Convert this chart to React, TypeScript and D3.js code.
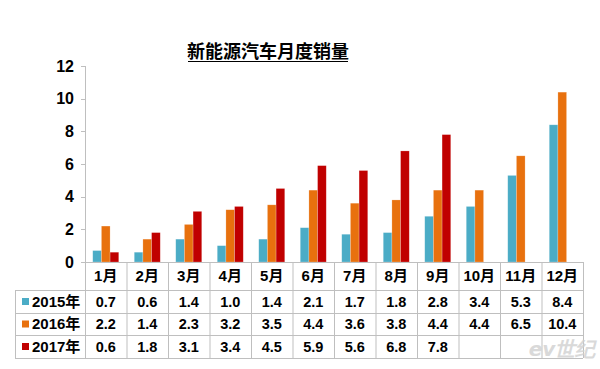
import React from "react";
import * as d3 from "d3";

const months = ["1月", "2月", "3月", "4月", "5月", "6月", "7月", "8月", "9月", "10月", "11月", "12月"];
const seriesNames = ["2015年", "2016年", "2017年"];
const colors = ["#4BACC6", "#E8710E", "#C00000"];
const s2015 = [0.7, 0.6, 1.4, 1.0, 1.4, 2.1, 1.7, 1.8, 2.8, 3.4, 5.3, 8.4];
const s2016 = [2.2, 1.4, 2.3, 3.2, 3.5, 4.4, 3.6, 3.8, 4.4, 4.4, 6.5, 10.4];
const s2017: (number | null)[] = [0.6, 1.8, 3.1, 3.4, 4.5, 5.9, 5.6, 6.8, 7.8, null, null, null];
const yTicks = [0, 2, 4, 6, 8, 10, 12];
const title = "新能源汽车月度销量";

export default function App() {
  const W = 600, H = 369;
  const left = 85, right = 583, top = 66, bottom = 262;
  const tableLeft = 15;
  const rowEdges = [262, 290, 313, 335, 358];
  const series = [s2015, s2016, s2017];

  const x = d3.scaleBand<string>().domain(months).range([left, right]).padding(0);
  const inner = d3.scaleBand<string>().domain(seriesNames).range([0, 26]).padding(0);
  const y = d3.scaleLinear().domain([0, 12]).range([bottom, top]);
  const bw = x.bandwidth();
  const off = (bw - 26) / 2;
  const grid = "#BFBFBF";
  const font = "'Liberation Sans', Arial, sans-serif";
  const cjk = "'Liberation Sans', 'Noto Sans CJK SC', sans-serif";

  return (
    <svg width={W} height={H} style={{ position: "absolute", left: 0, top: 0, background: "#fff" }}>
      <rect width={W} height={H} fill="#fff" />
      <text x={268} y={58} textAnchor="middle" fontFamily="'Noto Sans CJK SC', sans-serif" fontWeight="bold" fontSize={18} fill="#000">{title}</text>
      <line x1={268 - 80} x2={268 + 80} y1={61.5} y2={61.5} stroke="#000" strokeWidth={1.2} />
      {/* y axis */}
      <line x1={left + 0.5} x2={left + 0.5} y1={top} y2={rowEdges[4]} stroke={grid} />
      {yTicks.map((t) => (
        <g key={t}>
          <line x1={left - 4} x2={left} y1={Math.round(y(t)) + 0.5} y2={Math.round(y(t)) + 0.5} stroke={grid} />
          <text x={74} y={y(t) + 5.5} textAnchor="end" fontFamily={font} fontWeight="bold" fontSize={16} fill="#000">{t}</text>
        </g>
      ))}
      {/* bars */}
      {series.map((s, si) =>
        s.map((v, mi) =>
          v == null ? null : (
            <rect key={si + "-" + mi}
              x={(x(months[mi]) as number) + off + (inner(seriesNames[si]) as number)}
              y={y(v)} width={inner.bandwidth()} height={bottom - y(v)}
              fill={colors[si]} stroke="#fff" strokeOpacity={0.35} strokeWidth={0.6} />
          )
        )
      )}
      {/* table lines */}
      <line x1={left} x2={right} y1={rowEdges[0] + 0.5} y2={rowEdges[0] + 0.5} stroke={grid} />
      {rowEdges.slice(1).map((r, i) => (
        <line key={i} x1={tableLeft} x2={right} y1={r + 0.5} y2={r + 0.5} stroke={grid} />
      ))}
      <line x1={tableLeft + 0.5} x2={tableLeft + 0.5} y1={rowEdges[1]} y2={rowEdges[4]} stroke={grid} />
      {months.map((m) => (
        <line key={m} x1={(x(m) as number) + bw + 0.5} x2={(x(m) as number) + bw + 0.5} y1={rowEdges[0]} y2={rowEdges[4]} stroke={grid} />
      ))}
      {months.map((m) => (
        <text key={m} x={(x(m) as number) + bw / 2} y={(rowEdges[0] + rowEdges[1]) / 2 + 5} textAnchor="middle" fontFamily={cjk} fontWeight="bold" fontSize={15} fill="#000">{m}</text>
      ))}
      {series.map((s, si) => {
        const cy = (rowEdges[si + 1] + rowEdges[si + 2]) / 2;
        return (
          <g key={si}>
            <rect x={22} y={cy - 3.5} width={7} height={7} fill={colors[si]} />
            <text x={32} y={cy + 5} fontFamily={cjk} fontWeight="bold" fontSize={15} fill="#000">{seriesNames[si]}</text>
            {s.map((v, mi) => v == null ? null : (
              <text key={mi} x={(x(months[mi]) as number) + bw / 2} y={cy + 5} textAnchor="middle" fontFamily={font} fontWeight="bold" fontSize={14.5} fill="#000">{v.toFixed(1)}</text>
            ))}
          </g>
        );
      })}
      <text x={562} y={356} textAnchor="middle" fontFamily="'DejaVu Sans', sans-serif" fontWeight="bold" fontStyle="italic" fontSize={20} fill="#D0D0D0" opacity={0.8}>ev世纪</text>
    </svg>
  );
}
